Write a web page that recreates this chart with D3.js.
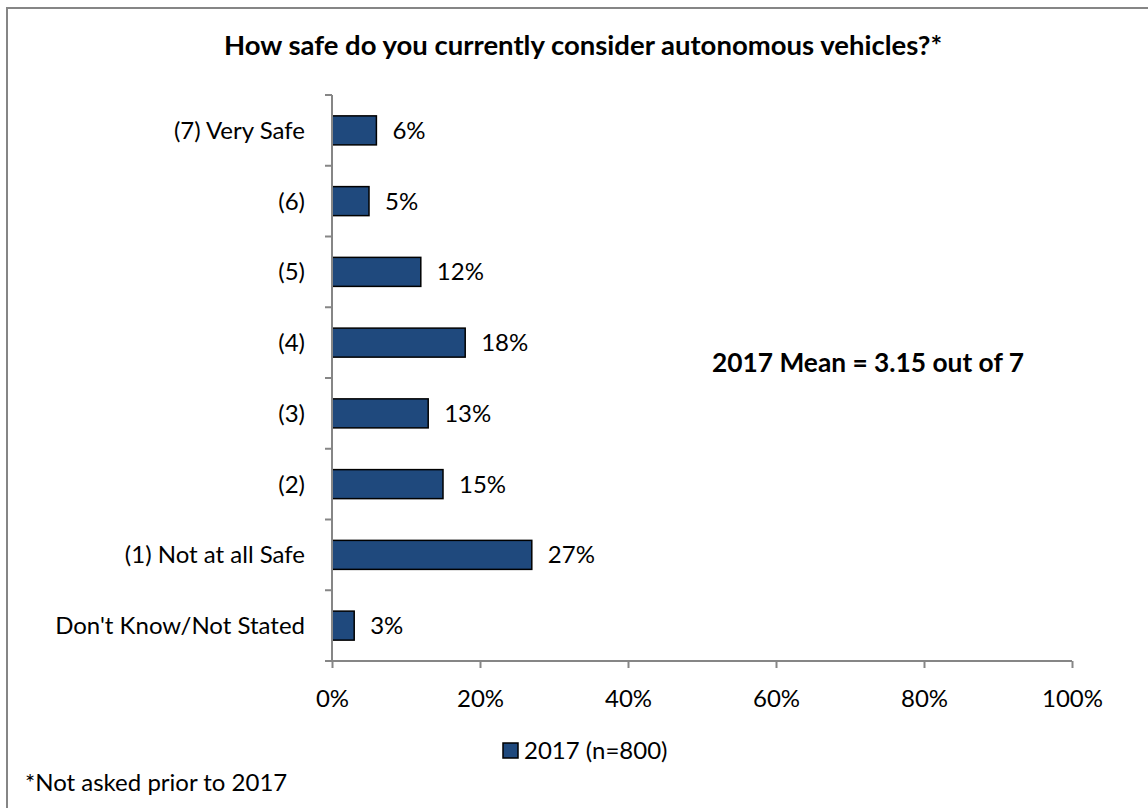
<!DOCTYPE html>
<html>
<head>
<meta charset="utf-8">
<script src="https://cdn.jsdelivr.net/npm/d3@7"></script>
<style>
  html, body { margin: 0; padding: 0; background: #ffffff; }
  svg { display: block; }
  text { font-family: Lato, "Open Sans", sans-serif; fill: #000; }
</style>
</head>
<body>
<svg id="chart" width="1148" height="808"></svg>
<script>
// Survey responses, top row first
const categories = [
  "(7) Very Safe",
  "(6)",
  "(5)",
  "(4)",
  "(3)",
  "(2)",
  "(1) Not at all Safe",
  "Don't Know/Not Stated"
];
const values2017 = [6, 5, 12, 18, 13, 15, 27, 3];
const xTickValues = [0, 20, 40, 60, 80, 100];
const seriesLabel = "2017 (n=800)";
const chartTitle = "How safe do you currently consider autonomous vehicles?*";
const meanNote = "2017 Mean = 3.15 out of 7";
const footNote = "*Not asked prior to 2017";
const figureLabel = "Figure";

const W = 1148, H = 808;
const axisGrey = "#868686";
const barFill = "#1f497d";
const regSize = 24;
const titleSize = 27.5;
const noteSize = 26.3;

const svg = d3.select("#chart");
svg.append("rect").attr("width", W).attr("height", H).attr("fill", "#fff");

// Frame around the chart (runs off the right and bottom edges)
svg.append("rect")
  .attr("x", 7).attr("y", 8)
  .attr("width", W + 20).attr("height", H + 20)
  .attr("fill", "none").attr("stroke", axisGrey).attr("stroke-width", 2);

// Caption above the frame, mostly out of view
svg.append("text")
  .attr("x", 8).attr("y", -4)
  .attr("font-weight", "bold").attr("font-size", 25)
  .text(figureLabel);

const plot = { left: 332, right: 1072, top: 95, bottom: 661 };
const centerX = 583;

const x = d3.scaleLinear().domain([0, 100]).range([plot.left, plot.right]);
const y = d3.scaleBand()
  .domain(categories)
  .range([plot.top, plot.bottom])
  .paddingInner(0.59)
  .paddingOuter(0.295);

// Title
svg.append("text")
  .attr("x", centerX).attr("y", 55)
  .attr("text-anchor", "middle")
  .attr("font-weight", "bold").attr("font-size", titleSize)
  .text(chartTitle);

// Bars
svg.append("g").selectAll("rect")
  .data(categories)
  .join("rect")
  .attr("x", x(0))
  .attr("y", d => y(d))
  .attr("width", (d, i) => x(values2017[i]) - x(0))
  .attr("height", y.bandwidth())
  .attr("fill", barFill)
  .attr("stroke", "#000")
  .attr("stroke-width", 1.5);

// Value labels
svg.append("g").selectAll("text")
  .data(categories)
  .join("text")
  .attr("x", (d, i) => x(values2017[i]) + 16)
  .attr("y", d => y(d) + y.bandwidth() / 2)
  .attr("dy", "0.35em")
  .attr("font-size", regSize)
  .text((d, i) => values2017[i] + "%");

// Category axis
const yAxis = svg.append("g");
yAxis.append("line")
  .attr("x1", plot.left).attr("x2", plot.left)
  .attr("y1", plot.top).attr("y2", plot.bottom)
  .attr("stroke", axisGrey).attr("stroke-width", 2);
const step = y.step();
yAxis.selectAll("line.tick")
  .data(d3.range(categories.length + 1))
  .join("line")
  .attr("class", "tick")
  .attr("x1", plot.left - 7).attr("x2", plot.left)
  .attr("y1", i => plot.top + i * step)
  .attr("y2", i => plot.top + i * step)
  .attr("stroke", axisGrey).attr("stroke-width", 2);
yAxis.selectAll("text")
  .data(categories)
  .join("text")
  .attr("x", plot.left - 27)
  .attr("y", d => y(d) + y.bandwidth() / 2)
  .attr("dy", "0.35em")
  .attr("text-anchor", "end")
  .attr("font-size", regSize)
  .text(d => d);

// Value axis
const xAxis = svg.append("g")
  .attr("transform", `translate(0,${plot.bottom})`)
  .call(d3.axisBottom(x)
    .tickValues(xTickValues)
    .tickSize(7)
    .tickSizeOuter(0)
    .tickPadding(22)
    .tickFormat(d => d + "%"));
xAxis.select(".domain").remove();
xAxis.append("line")
  .attr("x1", plot.left - 7).attr("x2", plot.right)
  .attr("stroke", axisGrey).attr("stroke-width", 2);
xAxis.selectAll(".tick line").attr("stroke", axisGrey).attr("stroke-width", 2);
xAxis.selectAll(".tick text")
  .attr("font-family", "Lato, 'Open Sans', sans-serif")
  .attr("font-size", regSize)
  .attr("fill", "#000");

// Mean annotation
svg.append("text")
  .attr("x", 712).attr("y", 372)
  .attr("font-weight", "bold").attr("font-size", noteSize)
  .text(meanNote);

// Legend
const legend = svg.append("g").attr("transform", "translate(503,743)");
legend.append("rect")
  .attr("width", 15).attr("height", 15)
  .attr("fill", barFill).attr("stroke", "#000").attr("stroke-width", 1.5);
legend.append("text")
  .attr("x", 21).attr("y", 7.5).attr("dy", "0.35em")
  .attr("font-size", regSize)
  .text(seriesLabel);

// Footnote
svg.append("text")
  .attr("x", 25).attr("y", 791)
  .attr("font-size", regSize)
  .text(footNote);
</script>
</body>
</html>
